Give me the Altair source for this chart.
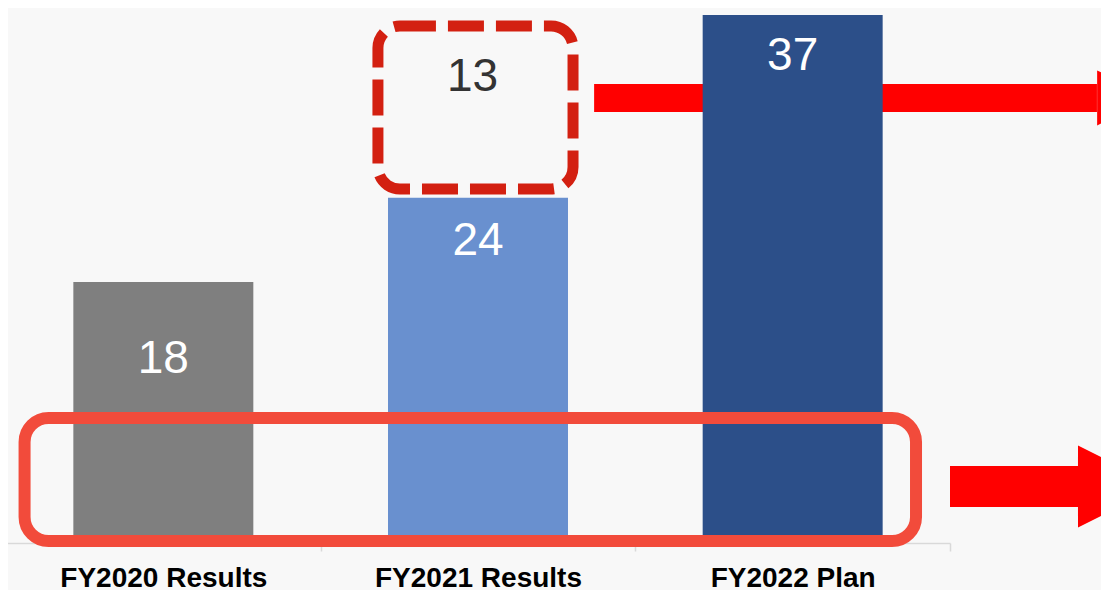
import altair as alt
import pandas as pd

# ---- data ----
categories = ["FY2020 Results", "FY2021 Results", "FY2022 Plan"]
values = [18, 24, 37]
bar_colors = ["#7F7F7F", "#6990CF", "#2C4F89"]
increase_value = 13          # dashed increment on top of FY2021

# label anchor heights (value units)
label_y = [12.55, 20.9, 34.1]

# ---- annotation geometry (x in category units, y in value units) ----
arrow_body_x = [1.869, 3.000]
arrow_body_x2 = [3.467, 3.407]
arrow_body_y = [30.10, 1.99]
arrow_body_y2 = [32.09, 4.91]
arrow_head_x = [3.555, 3.537]
arrow_head_y = [31.10, 3.45]
arrow_head_size = [3025, 6724]

dash_box = {"x": [1.182], "x2": [1.802], "y": [24.62], "y2": [36.22]}
frame_box = {"x": [0.059], "x2": [2.892], "y": [-0.43], "y2": [8.33]}
increase_label_pos = {"x": [1.4825], "y": [32.6]}

FONT = "Liberation Sans"
X_RANGE = [-2, 942]
y_scale = alt.Scale(domain=[0, 37.5], nice=False, zero=True)
ax_scale = alt.Scale(domain=[0, 3], range=X_RANGE, nice=False, zero=False)

bars_df = pd.DataFrame({"category": categories, "value": values, "label_y": label_y})

band_scale = alt.Scale(range=X_RANGE, paddingInner=0, paddingOuter=0)

bars = alt.Chart(bars_df).mark_bar(width=alt.RelativeBandSize(0.572)).encode(
    x=alt.X("category:N", sort=categories, scale=band_scale,
            axis=alt.Axis(title=None, labelAngle=0, labelFont=FONT, labelFontSize=28,
                          labelFontWeight="bold", labelColor="#000000",
                          domainColor="#D9D9D9", domainWidth=1.5,
                          tickColor="#D9D9D9", tickWidth=1.5, tickSize=8,
                          tickBand="extent", offset=8, labelPadding=35,
                          labelBaseline="alphabetic", labelLimit=0, grid=False)),
    y=alt.Y("value:Q", scale=y_scale, axis=None),
    color=alt.Color("category:N", scale=alt.Scale(domain=categories, range=bar_colors), legend=None),
)

bar_labels = alt.Chart(bars_df).mark_text(
    color="white", font=FONT, fontSize=46, baseline="middle", align="center"
).encode(
    x=alt.X("category:N", sort=categories, scale=band_scale, axis=None),
    y=alt.Y("label_y:Q", scale=y_scale, axis=None),
    text=alt.Text("value:Q"),
)

body_df = pd.DataFrame({"x": arrow_body_x, "x2": arrow_body_x2, "y": arrow_body_y, "y2": arrow_body_y2})
head_df = pd.DataFrame({"x": arrow_head_x, "y": arrow_head_y, "s": arrow_head_size})

top_body = alt.Chart(body_df.iloc[[0]]).mark_rect(color="#FF0000", clip=False).encode(
    x=alt.X("x:Q", scale=ax_scale, axis=None), x2="x2:Q",
    y=alt.Y("y:Q", scale=y_scale, axis=None), y2="y2:Q",
)
bottom_body = alt.Chart(body_df.iloc[[1]]).mark_rect(color="#FF0000", clip=False).encode(
    x=alt.X("x:Q", scale=ax_scale, axis=None), x2="x2:Q",
    y=alt.Y("y:Q", scale=y_scale, axis=None), y2="y2:Q",
)
heads = alt.Chart(head_df).mark_point(
    shape="M-1,-1L1,0L-1,1Z", filled=True, color="#FF0000", opacity=1, strokeWidth=0, clip=False
).encode(
    x=alt.X("x:Q", scale=ax_scale, axis=None),
    y=alt.Y("y:Q", scale=y_scale, axis=None),
    size=alt.Size("s:Q", scale=None, legend=None),
)

dash = alt.Chart(pd.DataFrame(dash_box)).mark_rect(
    filled=False, color="#D32011", strokeWidth=11, cornerRadius=22,
    strokeDash=[36, 12], clip=False
).encode(
    x=alt.X("x:Q", scale=ax_scale, axis=None), x2="x2:Q",
    y=alt.Y("y:Q", scale=y_scale, axis=None), y2="y2:Q",
)

frame = alt.Chart(pd.DataFrame(frame_box)).mark_rect(
    filled=False, color="#F24B3B", strokeWidth=12, cornerRadius=24, clip=False
).encode(
    x=alt.X("x:Q", scale=ax_scale, axis=None), x2="x2:Q",
    y=alt.Y("y:Q", scale=y_scale, axis=None), y2="y2:Q",
)

inc_df = pd.DataFrame({"x": increase_label_pos["x"], "y": increase_label_pos["y"], "t": [str(increase_value)]})
inc_label = alt.Chart(inc_df).mark_text(
    color="#333333", font=FONT, fontSize=46, baseline="middle", align="center", clip=False
).encode(
    x=alt.X("x:Q", scale=ax_scale, axis=None),
    y=alt.Y("y:Q", scale=y_scale, axis=None),
    text="t:N",
)

chart = alt.layer(
    top_body, bars, bar_labels, dash, inc_label, frame, bottom_body, heads
).resolve_scale(x="independent").properties(
    width=1093, height=527, background="#F8F8F8",
    padding={"left": 0, "top": 0, "right": 0, "bottom": 55},
    autosize=alt.AutoSizeParams(type="none"),
).configure_view(stroke=None)

chart.save("out.html", embed_options={"renderer": "svg", "actions": False})
